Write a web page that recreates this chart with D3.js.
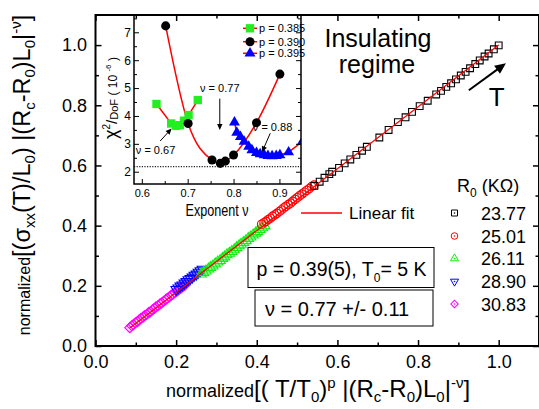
<!DOCTYPE html>
<html>
<head>
<meta charset="utf-8">
<script src="https://cdn.jsdelivr.net/npm/d3@7"></script>
<style>
  body { margin: 0; background: #fff; }
  svg text { font-family: "Liberation Sans", Arial, sans-serif; white-space: pre; }
</style>
</head>
<body>
<div id="chart"></div>
<script>
// ---- main panel data (normalized scaling plot) ----
const r0Labels = ['23.77', '25.01', '26.11', '28.90', '30.83'];
const r0Colors = ['#000000', '#ff0000', '#11ee11', '#0000ff', '#ff00ff'];

const sq_x = [0.543,0.556,0.568,0.580,0.587,0.604,0.618,0.632,0.647,0.661,0.673,0.704,0.727,0.750,0.769,0.785,0.804,0.824,0.845,0.857,0.870,0.882,0.894,0.906,0.918,0.929,0.942,0.953,0.965,0.975,0.988,1.000];
const sq_y = [0.532,0.546,0.559,0.571,0.579,0.592,0.607,0.620,0.635,0.649,0.662,0.693,0.718,0.744,0.760,0.778,0.797,0.815,0.836,0.848,0.861,0.873,0.886,0.899,0.911,0.923,0.937,0.949,0.962,0.972,0.986,0.999];

const ci_x = [0.412,0.418,0.423,0.428,0.434,0.439,0.445,0.450,0.456,0.461,0.467,0.472,0.478,0.484,0.489,0.495,0.500,0.506,0.512,0.518,0.524,0.530,0.536,0.542];
const ci_y = [0.405,0.410,0.414,0.420,0.425,0.431,0.436,0.441,0.447,0.452,0.459,0.464,0.470,0.475,0.481,0.487,0.493,0.499,0.505,0.511,0.517,0.523,0.530,0.535];

const tu_x = [0.262,0.268,0.274,0.280,0.285,0.291,0.297,0.303,0.309,0.315,0.320,0.326,0.332,0.338,0.344,0.350,0.356,0.361,0.367,0.373,0.379,0.385,0.391,0.397,0.402,0.408,0.414,0.420];
const tu_y = [0.239,0.244,0.249,0.256,0.261,0.266,0.273,0.279,0.284,0.291,0.296,0.303,0.308,0.314,0.320,0.327,0.333,0.338,0.344,0.350,0.357,0.362,0.369,0.375,0.380,0.387,0.393,0.399];

const td_x = [0.200,0.205,0.210,0.215,0.220,0.225,0.230,0.235,0.240,0.245,0.250,0.255,0.260,0.265];
const td_y = [0.188,0.193,0.199,0.203,0.209,0.214,0.220,0.224,0.229,0.235,0.239,0.245,0.250,0.255];

const di_x = [0.085,0.090,0.094,0.099,0.104,0.108,0.113,0.118,0.122,0.127,0.132,0.136,0.141,0.146,0.150,0.155,0.160,0.164,0.169,0.174,0.178,0.183,0.188,0.192,0.197,0.202,0.206,0.211,0.216,0.221];
const di_y = [0.061,0.067,0.071,0.077,0.081,0.086,0.092,0.096,0.101,0.105,0.111,0.114,0.120,0.125,0.130,0.134,0.140,0.143,0.149,0.154,0.159,0.163,0.169,0.172,0.178,0.182,0.187,0.191,0.197,0.201];

const fit_x = [0.085, 1.0];
const fit_y = [0.060, 1.0];

const mainXTicks = [0, 0.2, 0.4, 0.6, 0.8, 1.0];
const mainXMinor = [0.1, 0.3, 0.5, 0.7, 0.9];
const mainYTicks = [0, 0.2, 0.4, 0.6, 0.8, 1.0];
const mainYMinor = [0.1, 0.3, 0.5, 0.7, 0.9];

// ---- inset data (chi^2 / DoF vs exponent nu) ----
const insetLabels = ['p = 0.385', 'p = 0.390', 'p = 0.395'];
const p385_nu  = [0.632,0.664,0.675,0.683,0.692,0.702,0.722];
const p385_chi = [4.43,3.73,3.65,3.67,3.83,4.03,4.57];
const p390_nu  = [0.652,0.701,0.753,0.771,0.782,0.800,0.850,0.901];
const p390_chi = [7.23,3.73,2.42,2.30,2.38,2.60,3.76,5.50];
const p395_nu  = [0.802,0.807,0.815,0.823,0.833,0.840,0.850,0.858,0.867,0.875,0.884,0.893,0.901,0.920,0.950];
const p395_chi = [3.77,3.40,3.25,3.08,2.90,2.78,2.68,2.63,2.60,2.57,2.56,2.57,2.60,2.70,3.08];
const chiRef = 2.18;

const insetXTicks = [0.6, 0.7, 0.8, 0.9];
const insetXMinor = [0.65, 0.75, 0.85];
const insetYTicks = [2, 3, 4, 5, 6, 7];
const insetYMinor = [2.5, 3.5, 4.5, 5.5, 6.5, 7.5];

const NARROW = '"Liberation Sans Narrow", "Arial Narrow", "Liberation Sans", sans-serif';

function zip(xs, ys) { return xs.map((v, i) => ({ x: v, y: ys[i] })); }

// append tspans with sub/superscript shifts (shift in px, + is down)
function richText(sel, parts) {
  let cur = 0;
  parts.forEach(p => {
    const s = p.shift || 0;
    sel.append('tspan').attr('dy', s - cur).attr('font-size', p.size).text(p.t);
    cur = s;
  });
  return sel;
}

function addAxis(parent, gen, transform, fs, family) {
  const g = parent.append('g').attr('transform', transform).call(gen);
  g.select('.domain').remove();
  g.attr('font-size', fs).attr('font-family', family);
  g.selectAll('.tick line').attr('stroke', '#000').attr('stroke-width', 1.5);
  g.selectAll('.tick text').attr('fill', '#000');
  return g;
}

function arrow(parent, x1, y1, x2, y2, head, w) {
  const a = Math.atan2(y2 - y1, x2 - x1);
  parent.append('line')
    .attr('x1', x1).attr('y1', y1)
    .attr('x2', x2 - Math.cos(a) * head * 0.8).attr('y2', y2 - Math.sin(a) * head * 0.8)
    .attr('stroke', '#000').attr('stroke-width', w);
  const hw = head * 0.45;
  const bx = x2 - Math.cos(a) * head, by = y2 - Math.sin(a) * head;
  parent.append('path')
    .attr('d', `M${x2},${y2}L${bx - Math.sin(a) * hw},${by + Math.cos(a) * hw}L${bx + Math.sin(a) * hw},${by - Math.cos(a) * hw}Z`)
    .attr('fill', '#000');
}

const W = 539, H = 409;
const svg = d3.select('#chart').append('svg').attr('width', W).attr('height', H);
svg.append('rect').attr('width', W).attr('height', H).attr('fill', '#fff');

const x = d3.scaleLinear().domain([0, 1.1]).range([95.5, 539]);
const y = d3.scaleLinear().domain([0, 1.1]).range([346, 15]);

// ---------- main data ----------
const symSquare = d3.symbol().type(d3.symbolSquare);
const symCircle = d3.symbol().type(d3.symbolCircle);
const symTri = d3.symbol().type(d3.symbolTriangle);

const series = [
  { pts: zip(sq_x, sq_y), path: symSquare.size(46)(), rot: 0 },
  { pts: zip(ci_x, ci_y), path: symCircle.size(55)(), rot: 0 },
  { pts: zip(tu_x, tu_y), path: symTri.size(46)(), rot: 0 },
  { pts: zip(td_x, td_y), path: symTri.size(46)(), rot: 180 },
  { pts: zip(di_x, di_y), path: symSquare.size(50)(), rot: 45 }
];

const dataG = svg.append('g');
// draw lower series first so black squares sit on top
series.slice().reverse().forEach((s, k) => {
  const i = series.length - 1 - k;
  dataG.append('g').selectAll('path')
    .data(s.pts)
    .join('path')
    .attr('d', s.path)
    .attr('transform', d => `translate(${x(d.x)},${y(d.y)}) rotate(${s.rot})`)
    .attr('fill', 'none')
    .attr('stroke', r0Colors[i])
    .attr('stroke-width', 1.1);
});

svg.append('path')
  .datum(zip(fit_x, fit_y))
  .attr('d', d3.line().x(d => x(d.x)).y(d => y(d.y)))
  .attr('stroke', '#ff0000').attr('stroke-width', 1.3).attr('fill', 'none');

// ---------- main axes ----------
const fmt1 = d3.format('.1f');
addAxis(svg, d3.axisBottom(x).tickValues(mainXTicks).tickSize(-6).tickPadding(9).tickFormat(fmt1), `translate(0,${y(0)})`, 18);
addAxis(svg, d3.axisBottom(x).tickValues(mainXMinor).tickSize(-3.5).tickFormat(''), `translate(0,${y(0)})`, 18);
addAxis(svg, d3.axisTop(x).tickValues(mainXTicks).tickSize(-6).tickFormat(''), `translate(0,${y(1.1)})`, 18);
addAxis(svg, d3.axisTop(x).tickValues(mainXMinor).tickSize(-3.5).tickFormat(''), `translate(0,${y(1.1)})`, 18);
addAxis(svg, d3.axisLeft(y).tickValues(mainYTicks).tickSize(-6).tickPadding(8.5).tickFormat(fmt1), `translate(${x(0)},0)`, 18);
addAxis(svg, d3.axisLeft(y).tickValues(mainYMinor).tickSize(-3.5).tickFormat(''), `translate(${x(0)},0)`, 18);
addAxis(svg, d3.axisRight(y).tickValues(mainYTicks).tickSize(-6).tickFormat(''), `translate(${x(1.1)},0)`, 18);
addAxis(svg, d3.axisRight(y).tickValues(mainYMinor).tickSize(-3.5).tickFormat(''), `translate(${x(1.1)},0)`, 18);

svg.append('rect')
  .attr('x', x(0)).attr('y', y(1.1))
  .attr('width', x(1.1) - x(0)).attr('height', y(0) - y(1.1))
  .attr('fill', 'none').attr('stroke', '#000').attr('stroke-width', 2);

// axis titles
richText(svg.append('text').attr('x', 318).attr('y', 397).attr('text-anchor', 'middle'), [
  { t: 'normalized', size: 18 }, { t: '[( T/T', size: 24 }, { t: '0', size: 15, shift: 5 },
  { t: ')', size: 24 }, { t: 'p', size: 15, shift: -9 }, { t: ' |(R', size: 24 },
  { t: 'c', size: 15, shift: 5 }, { t: '-R', size: 24 }, { t: '0', size: 15, shift: 5 },
  { t: ')L', size: 24 }, { t: '0', size: 15, shift: 5 }, { t: '|', size: 24 },
  { t: '-ν', size: 15, shift: -9 }, { t: ']', size: 24 }
]);

richText(svg.append('text').attr('transform', 'translate(30,175) rotate(-90)').attr('text-anchor', 'middle'), [
  { t: 'normalized', size: 16 }, { t: '[(σ', size: 23.5 }, { t: 'xx', size: 15, shift: 5 },
  { t: '(T)/L', size: 23.5 }, { t: '0', size: 15, shift: 5 }, { t: ') |(R', size: 23.5 },
  { t: 'c', size: 15, shift: 5 }, { t: '-R', size: 23.5 }, { t: '0', size: 15, shift: 5 },
  { t: ')L', size: 23.5 }, { t: '0', size: 15, shift: 5 }, { t: '|', size: 23.5 },
  { t: '-ν', size: 15, shift: -9 }, { t: ']', size: 23.5 }
]);

// annotations
svg.append('text').attr('x', 378).attr('y', 47).attr('text-anchor', 'middle').attr('font-size', 25).text('Insulating');
svg.append('text').attr('x', 377).attr('y', 73).attr('text-anchor', 'middle').attr('font-size', 25).text('regime');
arrow(svg, x(0.926), y(0.850), x(1.018), y(0.940), 11, 2);
svg.append('text').attr('x', x(0.995)).attr('y', y(0.797)).attr('text-anchor', 'middle').attr('font-size', 26).text('T');

// linear fit legend
svg.append('line').attr('x1', 301).attr('x2', 342).attr('y1', 213).attr('y2', 213)
  .attr('stroke', '#ff0000').attr('stroke-width', 1.3);
svg.append('text').attr('x', 349).attr('y', 219).attr('font-size', 17).text('Linear fit');

// R0 legend
richText(svg.append('text').attr('x', 457).attr('y', 192), [
  { t: 'R', size: 18 }, { t: '0', size: 12, shift: 5 }, { t: ' (KΩ)', size: 18 }
]);
const legY = [213, 236, 258.5, 281.5, 304];
series.forEach((s, i) => {
  const g = svg.append('g').attr('transform', `translate(454.5,${legY[i]})`);
  const smallPath = [symSquare.size(36)(), symCircle.size(34)(), symTri.size(28)(), symTri.size(28)(), symSquare.size(28)()][i];
  g.append('path').attr('d', smallPath).attr('transform', `rotate(${s.rot})`)
    .attr('fill', 'none').attr('stroke', r0Colors[i]).attr('stroke-width', 1);
  g.append('circle').attr('r', 0.8).attr('fill', r0Colors[i]);
  svg.append('text').attr('x', 481).attr('y', legY[i] + 6.5).attr('font-size', 18).text(r0Labels[i]);
});

// parameter boxes
svg.append('rect').attr('x', 248).attr('y', 247.5).attr('width', 186).attr('height', 40)
  .attr('fill', '#fff').attr('stroke', '#000').attr('stroke-width', 1);
richText(svg.append('text').attr('x', 256.5).attr('y', 276), [
  { t: 'p = 0.39(5), T', size: 19.5 }, { t: '0', size: 12, shift: 6 }, { t: '= 5 K', size: 19.5 }
]);
svg.append('rect').attr('x', 255).attr('y', 290).attr('width', 178).attr('height', 36)
  .attr('fill', '#fff').attr('stroke', '#000').attr('stroke-width', 1);
svg.append('text').attr('x', 265).attr('y', 316).attr('font-size', 20).text('ν = 0.77 +/- 0.11');

// ---------- inset ----------
const xi = d3.scaleLinear().domain([0.583, 0.947]).range([134, 301]);
const yi = d3.scaleLinear().domain([1.56, 7.62]).range([184, 15]);
const inset = svg.append('g');
svg.append('clipPath').attr('id', 'insetClip').append('rect')
  .attr('x', xi(0.583)).attr('y', yi(7.62)).attr('width', xi(0.947) - xi(0.583)).attr('height', yi(1.56) - yi(7.62));
const plotI = inset.append('g').attr('clip-path', 'url(#insetClip)');

plotI.append('line').attr('x1', xi(0.583)).attr('x2', xi(0.947)).attr('y1', yi(chiRef)).attr('y2', yi(chiRef))
  .attr('stroke', '#222').attr('stroke-width', 1.2).attr('stroke-dasharray', '1.2,1.4');

const lineI = d3.line().x(d => xi(d.x)).y(d => yi(d.y));
const insetSeries = [
  { pts: zip(p385_nu, p385_chi), color: '#22ee22', path: symSquare.size(70)(), curve: d3.curveLinear },
  { pts: zip(p390_nu, p390_chi), color: '#000000', path: symCircle.size(64)(), curve: d3.curveMonotoneX },
  { pts: zip(p395_nu, p395_chi), color: '#0000ff', path: symTri.size(52)(), curve: d3.curveLinear }
];
insetSeries.forEach(s => {
  plotI.append('path').datum(s.pts).attr('d', lineI.curve(s.curve))
    .attr('fill', 'none').attr('stroke', '#ff0000').attr('stroke-width', 1.5);
});
insetSeries.forEach(s => {
  plotI.append('g').selectAll('path').data(s.pts).join('path')
    .attr('d', s.path)
    .attr('transform', d => `translate(${xi(d.x)},${yi(d.y)})`)
    .attr('fill', s.color);
});

// inset axes
addAxis(inset, d3.axisBottom(xi).tickValues(insetXTicks).tickSize(-5).tickPadding(5.5).tickFormat(fmt1), `translate(0,${yi(1.56)})`, 11, NARROW);
addAxis(inset, d3.axisBottom(xi).tickValues(insetXMinor).tickSize(-3).tickFormat(''), `translate(0,${yi(1.56)})`, 11, NARROW);
addAxis(inset, d3.axisLeft(yi).tickValues(insetYTicks).tickSize(-5).tickPadding(3).tickFormat(d3.format('d')), `translate(${xi(0.583)},0)`, 12, NARROW);
addAxis(inset, d3.axisLeft(yi).tickValues(insetYMinor).tickSize(-3).tickFormat(''), `translate(${xi(0.583)},0)`, 11, NARROW);
addAxis(inset, d3.axisRight(yi).tickValues(insetYTicks).tickSize(-5).tickFormat(''), `translate(${xi(0.947)},0)`, 11, NARROW);
addAxis(inset, d3.axisRight(yi).tickValues(insetYMinor).tickSize(-3).tickFormat(''), `translate(${xi(0.947)},0)`, 11, NARROW);
inset.selectAll('.tick line').attr('stroke-width', 1);

inset.append('rect')
  .attr('x', xi(0.583)).attr('y', yi(7.62))
  .attr('width', xi(0.947) - xi(0.583)).attr('height', yi(1.56) - yi(7.62))
  .attr('fill', 'none').attr('stroke', '#000').attr('stroke-width', 1.5);

inset.append('text').attr('x', 217).attr('y', 216).attr('text-anchor', 'middle')
  .attr('font-family', NARROW).attr('font-size', 16).attr('textLength', 63).attr('lengthAdjust', 'spacingAndGlyphs')
  .text('Exponent ν');

richText(inset.append('text').attr('transform', 'translate(117,98) rotate(-90)').attr('text-anchor', 'middle').attr('font-family', NARROW), [
  { t: 'χ', size: 18 }, { t: '2', size: 10, shift: -7 }, { t: '/', size: 15 },
  { t: 'DoF', size: 11, shift: 1 }, { t: ' ( 10 ', size: 12 }, { t: '-6', size: 8, shift: -6 }, { t: ' )', size: 12 }
]);

// inset annotations
const annI = inset.append('g').attr('font-family', NARROW).attr('font-size', 11);
annI.append('text').attr('x', xi(0.77)).attr('y', yi(4.85)).attr('text-anchor', 'middle').text('ν = 0.77');
arrow(annI, xi(0.77), yi(4.62), xi(0.77), yi(3.5), 6, 1);
annI.append('text').attr('x', xi(0.63)).attr('y', yi(2.62)).attr('text-anchor', 'middle').text('ν = 0.67');
arrow(annI, xi(0.64), yi(3.1), xi(0.665), yi(3.55), 6, 1);
annI.append('text').attr('x', xi(0.885)).attr('y', yi(3.47)).attr('text-anchor', 'middle').text('ν = 0.88');
arrow(annI, xi(0.88), yi(3.38), xi(0.862), yi(2.7), 6, 1);

// inset legend
const legIY = [28.3, 41.7, 53.3];
insetSeries.forEach((s, i) => {
  inset.append('line').attr('x1', 243).attr('x2', 257).attr('y1', legIY[i]).attr('y2', legIY[i])
    .attr('stroke', '#ff0000').attr('stroke-width', 1.5);
  inset.append('path').attr('d', s.path).attr('transform', `translate(250,${legIY[i]})`).attr('fill', s.color);
  inset.append('text').attr('x', 259).attr('y', legIY[i] + 4).attr('font-family', NARROW)
    .attr('font-size', 11).text(insetLabels[i]);
});
</script>
</body>
</html>
